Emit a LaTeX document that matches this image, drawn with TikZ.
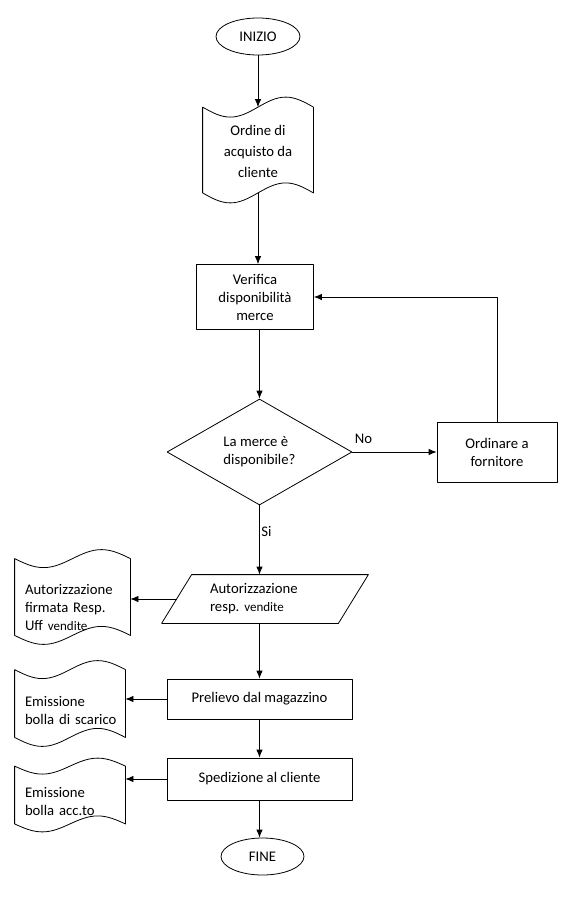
\documentclass[tikz,border=0pt]{standalone}
\usepackage{fontspec}
\setmainfont{Carlito}
\usetikzlibrary{arrows.meta, positioning, calc, shapes.geometric}

% Nastro (documento con bordi ondulati) attorno a un nodo
\newcommand{\tapeframe}[3]{%
  \draw let \p1=([yshift=#2]#1.north west), \p2=([yshift=#2]#1.south east),
    \n1={(\x2-\x1)/4} in
    (\x1,\y1) sin ++(\n1,#3) cos ++(\n1,-#3) sin ++(\n1,-#3) cos ++(\n1,#3)
    -- (\x2,\y2) sin ++(-\n1,-#3) cos ++(-\n1,#3) sin ++(-\n1,#3) cos ++(-\n1,-#3)
    -- cycle;}

\begin{document}
\begin{tikzpicture}[x=1pt, y=-1pt, line join=round, line width=0.8pt,
  every node/.style={font=\fontsize{14.7}{18}\selectfont},
  term/.style={ellipse, draw, inner sep=1pt, minimum width=84pt, minimum height=37pt},
  proc/.style={rectangle, draw, align=center},
  dec/.style={diamond, draw, align=left, inner sep=0pt, minimum width=185pt, minimum height=106pt},
  io/.style={rectangle, minimum width=176pt, minimum height=48pt, text width=110pt, align=left},
  tape/.style={rectangle, align=left, inner ysep=2pt},
  lbl/.style={inner sep=1pt},
  arr/.style={-{Latex[length=8pt,width=6.5pt]}}]
  \useasboundingbox (0,0) rectangle (568,900);
  % Colonna principale
  \node[term] (inizio) at (258,36.5) {INIZIO};
  \node[tape, align=center, minimum width=110pt, minimum height=85pt] (ordine) at (258,151)
    {Ordine di\\[3pt] acquisto da\\[3pt] cliente};
  \node[proc, minimum width=117pt, minimum height=65pt] (verifica) at (255,297)
    {Verifica\\ disponibilità\\ merce};
  \node[dec] (dia) at (259.5,452) {La merce è\\ disponibile?};
  \node[proc, minimum width=120pt, minimum height=60pt] (ordinare) at (497,452)
    {Ordinare a\\ fornitore};
  \node[io] (auto) at (265,599)
    {Autorizzazione\\ \mbox{resp.\ {\fontsize{13}{18}\selectfont vendite}}};
  \node[proc, minimum width=185pt, minimum height=40pt] (prelievo) at (259.5,699)
    {Prelievo dal magazzino};
  \node[proc, minimum width=185pt, minimum height=42pt] (spediz) at (259.5,779)
    {Spedizione al cliente};
  \node[term, minimum width=83pt] (fine) at (262.5,856.5) {FINE};
  % Documenti a sinistra
  \node[tape, minimum width=115pt, minimum height=76pt, text width=95pt, inner xsep=10pt]
    (firmata) at (72.5,607)
    {Autorizzazione\\ \mbox{firmata Resp.}\\ \mbox{Uff {\fontsize{13}{18}\selectfont vendite}}};
  \node[tape, minimum width=110pt, minimum height=67pt, text width=90pt, inner xsep=10pt]
    (scarico) at (70,710) {Emissione\\ \mbox{bolla di scarico}};
  \node[tape, minimum width=110pt, minimum height=57pt, text width=90pt, inner xsep=10pt]
    (accto) at (70,801) {Emissione\\ \mbox{bolla acc.to}};
  % Contorni
  \tapeframe{ordine}{1pt}{10}
  \tapeframe{firmata}{10pt}{9}
  \tapeframe{scarico}{6.5pt}{9}
  \tapeframe{accto}{6pt}{8}
  \draw ([xshift=-15pt]auto.south west) -- ([xshift=15pt]auto.north west)
    -- ([xshift=15pt]auto.north east) -- ([xshift=-15pt]auto.south east) -- cycle;
  % Frecce
  \draw[arr] (inizio) -- ([yshift=1pt]ordine.north);
  \draw[arr] ([yshift=1pt]ordine.south) -- (ordine.south |- verifica.north);
  \draw[arr] (verifica.south -| dia.north) -- (dia.north);
  \draw[arr] (dia.east) -- (ordinare.west);
  \draw[arr] (ordinare.north) |- (verifica.east);
  \draw[arr] (dia.south) -- (dia.south |- auto.north);
  \draw[arr] (auto.west) -- (auto.west -| firmata.east);
  \draw[arr] (auto.south -| prelievo.north) -- (prelievo.north);
  \draw[arr] (prelievo.west) -- (prelievo.west -| scarico.east);
  \draw[arr] (prelievo) -- (spediz);
  \draw[arr] (spediz.west) -- (spediz.west -| accto.east);
  \draw[arr] (spediz.south) -- (spediz.south |- fine.north);
  % Etichette
  \node[lbl, above right=7pt and 1pt] (no) at (dia.east) {No};
  \node[lbl, anchor=west] (si) at (260,531) {Si};
\end{tikzpicture}
\end{document}
